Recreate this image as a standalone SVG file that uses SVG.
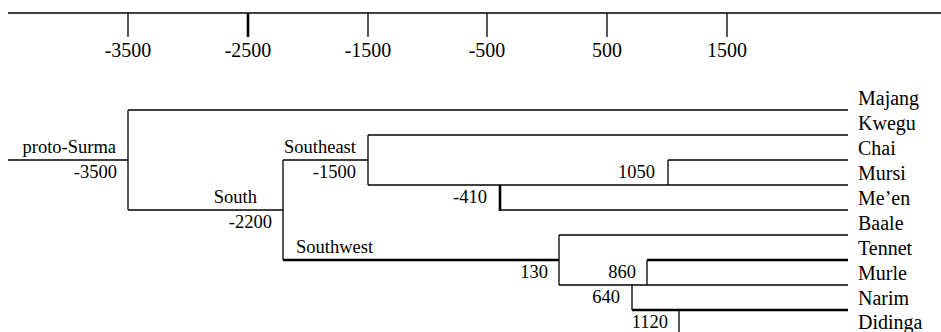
<svg xmlns="http://www.w3.org/2000/svg" width="941" height="332" viewBox="0 0 941 332" font-family="'Liberation Serif', 'Times New Roman', 'DejaVu Serif', serif">
<style>
text{font-family:'Liberation Serif','Times New Roman','DejaVu Serif',serif;fill:#000}
.ax{font-size:20px;text-anchor:middle}
.lf{font-size:20px}
.nd{font-size:18.5px}
.r{text-anchor:end}
line{stroke:#000;stroke-width:1.3}
.t{stroke-width:2.6}
</style>
<g id="axis">
<line x1="8" y1="13" x2="941" y2="13"/>
<line x1="128" y1="13" x2="128" y2="37"/>
<line class="t" x1="248" y1="13" x2="248" y2="37"/>
<line x1="368" y1="13" x2="368" y2="37"/>
<line x1="487" y1="13" x2="487" y2="37"/>
<line x1="607" y1="13" x2="607" y2="37"/>
<line x1="727" y1="13" x2="727" y2="37"/>
<text class="ax" x="128" y="57">-3500</text>
<text class="ax" x="248" y="57">-2500</text>
<text class="ax" x="368" y="57">-1500</text>
<text class="ax" x="487" y="57">-500</text>
<text class="ax" x="607" y="57">500</text>
<text class="ax" x="727" y="57">1500</text>
</g>
<g id="connectors">
<line x1="8" y1="160" x2="128" y2="160"/>
<line x1="128" y1="110" x2="128" y2="210"/>
<line x1="128" y1="110" x2="848" y2="110"/>
<line x1="128" y1="210" x2="283" y2="210"/>
<line x1="283" y1="160" x2="283" y2="260"/>
<line x1="283" y1="160" x2="368" y2="160"/>
<line x1="368" y1="135" x2="368" y2="185"/>
<line x1="368" y1="135" x2="848" y2="135"/>
<line x1="368" y1="185" x2="848" y2="185"/>
<line x1="668" y1="160" x2="668" y2="185"/>
<line x1="668" y1="160" x2="848" y2="160"/>
<line class="t" x1="500" y1="185" x2="500" y2="211"/>
<line x1="500" y1="210" x2="848" y2="210"/>
<line class="t" x1="283" y1="260" x2="559" y2="260"/>
<line x1="559" y1="235" x2="559" y2="285"/>
<line x1="559" y1="235" x2="848" y2="235"/>
<line x1="559" y1="285" x2="848" y2="285"/>
<line x1="647" y1="260" x2="647" y2="285"/>
<line class="t" x1="647" y1="260" x2="848" y2="260"/>
<line x1="632" y1="285" x2="632" y2="310"/>
<line class="t" x1="632" y1="310" x2="848" y2="310"/>
<line x1="679" y1="310" x2="679" y2="335"/>
</g>
<g id="node-proto-surma">
<text class="nd r" x="116" y="153">proto-Surma</text>
<text class="nd r" x="117" y="178">-3500</text>
</g>
<g id="node-south">
<text class="nd r" x="257" y="203">South</text>
<text class="nd r" x="272" y="228">-2200</text>
</g>
<g id="node-southeast">
<text class="nd" x="284" y="153">Southeast</text>
<text class="nd r" x="356" y="178">-1500</text>
</g>
<g id="node-southwest">
<text class="nd" x="296" y="253">Southwest</text>
</g>
<g id="node-410"><text class="nd r" x="487" y="203">-410</text></g>
<g id="node-1050"><text class="nd r" x="655" y="178">1050</text></g>
<g id="node-130"><text class="nd r" x="548" y="278">130</text></g>
<g id="node-860"><text class="nd r" x="636" y="278">860</text></g>
<g id="node-640"><text class="nd r" x="620" y="303">640</text></g>
<g id="node-1120"><text class="nd r" x="668" y="328">1120</text></g>
<g id="leaves">
<text class="lf" x="858" y="105">Majang</text>
<text class="lf" x="858" y="130">Kwegu</text>
<text class="lf" x="858" y="155">Chai</text>
<text class="lf" x="858" y="180">Mursi</text>
<text class="lf" x="858" y="205">Me’en</text>
<text class="lf" x="858" y="230">Baale</text>
<text class="lf" x="858" y="255">Tennet</text>
<text class="lf" x="858" y="280">Murle</text>
<text class="lf" x="858" y="305">Narim</text>
<text class="lf" x="858" y="329">Didinga</text>
</g>
</svg>
